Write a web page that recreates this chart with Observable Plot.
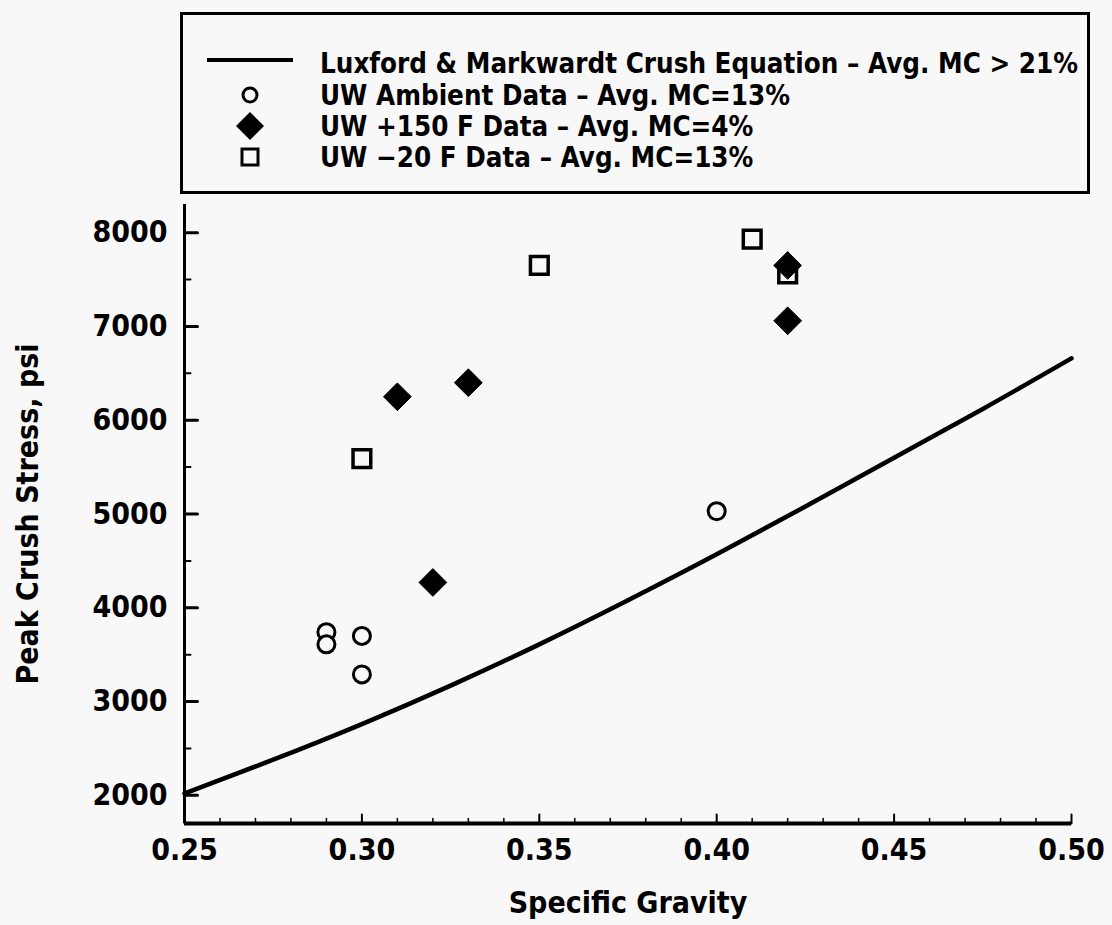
<!DOCTYPE html>
<html><head><meta charset="utf-8">
<script src="https://cdn.jsdelivr.net/npm/d3@7"></script>
<script src="https://cdn.jsdelivr.net/npm/@observablehq/plot@0.6"></script>
<style>
body{margin:0;background:#f8f8f8;width:1112px;height:925px;overflow:hidden;font-family:"DejaVu Sans Condensed","DejaVu Sans",sans-serif;}
#legend{position:absolute;left:180px;top:12px;width:910px;height:182px;box-sizing:border-box;border:3px solid #000;}
#legend svg{position:absolute;left:0;top:0;}
#chart{position:absolute;left:0;top:196px;}
</style></head><body>
<div id="legend"></div><div id="chart"></div>
<script>
// ---- data ----
const xDomain = [0.25, 0.50];
const yDomain = [1700, 8300];
const xMajor = [0.25, 0.30, 0.35, 0.40, 0.45, 0.50];
const xMinor = [0.26,0.27,0.28,0.29,0.31,0.32,0.33,0.34,0.36,0.37,0.38,0.39,0.41,0.42,0.43,0.44,0.46,0.47,0.48,0.49];
const yMajor = [2000, 3000, 4000, 5000, 6000, 7000, 8000];
const yMinor = [2500, 3500, 4500, 5500, 6500, 7500];

const curveSG   = [0.25, 0.275, 0.30, 0.325, 0.35, 0.375, 0.40, 0.425, 0.45, 0.475, 0.50];
const curveStress = [2020, 2380, 2760, 3170, 3610, 4080, 4570, 5080, 5600, 6120, 6660];

const ambientSG = [0.29, 0.29, 0.30, 0.30, 0.40];
const ambientStress = [3740, 3610, 3700, 3290, 5030];

const plus150SG = [0.31, 0.33, 0.32, 0.42, 0.42];
const plus150Stress = [6250, 6400, 4270, 7060, 7650];

const minus20SG = [0.30, 0.35, 0.41, 0.42];
const minus20Stress = [5590, 7650, 7930, 7560];

const legendLabels = [
  "Luxford & Markwardt Crush Equation \u2013 Avg. MC > 21%",
  "UW Ambient Data \u2013 Avg. MC=13%",
  "UW +150 F Data \u2013 Avg. MC=4%",
  "UW \u221220 F Data \u2013 Avg. MC=13%"
];

const zip = (xs, ys) => xs.map((x, i) => ({x, y: ys[i]}));
const curve = zip(curveSG, curveStress);
const ambient = zip(ambientSG, ambientStress);
const plus150 = zip(plus150SG, plus150Stress);
const minus20 = zip(minus20SG, minus20Stress);

const FONT = '"DejaVu Sans Condensed","DejaVu Sans",sans-serif';
const BG = "#f8f8f8";
const tickShape = {draw(context, l) { context.moveTo(0, 0); context.lineTo(0, -l); }};

const chart = Plot.plot({
  width: 1112, height: 729,
  marginLeft: 184, marginRight: 41, marginTop: 8, marginBottom: 102,
  style: {background: "transparent", fontFamily: FONT, color: "#000"},
  x: {domain: xDomain},
  y: {domain: yDomain},
  marks: [
    Plot.ruleX([xDomain[0]], {stroke: "#000", strokeWidth: 3}),
    Plot.ruleY([yDomain[0]], {stroke: "#000", strokeWidth: 4}),
    Plot.vector(yMajor, {y: d => d, frameAnchor: "left", rotate: 90, length: 13, anchor: "start", shape: tickShape, stroke: "#000", strokeWidth: 3}),
    Plot.vector(yMinor, {y: d => d, frameAnchor: "left", rotate: 90, length: 6, anchor: "start", shape: tickShape, stroke: "#000", strokeWidth: 2}),
    Plot.vector(xMajor, {x: d => d, frameAnchor: "bottom", rotate: 0, length: 9, anchor: "start", shape: tickShape, stroke: "#000", strokeWidth: 2}),
    Plot.vector(xMinor, {x: d => d, frameAnchor: "bottom", rotate: 0, length: 5, anchor: "start", shape: tickShape, stroke: "#000", strokeWidth: 1.5}),
    Plot.axisY({ticks: yMajor, tickSize: 0, tickPadding: 17, tickFormat: d => String(d), fontSize: 30, fontWeight: "bold", label: null}),
    Plot.axisX({ticks: xMajor, tickSize: 0, tickPadding: 15, tickFormat: d => d.toFixed(2), fontSize: 30, fontWeight: "bold", label: null}),
    Plot.text(["Specific Gravity"], {text: d => d, frameAnchor: "bottom", textAnchor: "middle", dy: 80, lineAnchor: "middle", fontSize: 30, fontWeight: "bold"}),
    Plot.text(["Peak Crush Stress, psi"], {text: d => d, frameAnchor: "left", textAnchor: "middle", dx: -156, rotate: -90, lineAnchor: "middle", fontSize: 30, fontWeight: "bold"}),
    Plot.line(curve, {x: "x", y: "y", curve: "natural", stroke: "#000", strokeWidth: 4.5}),
    Plot.dot(ambient, {x: "x", y: "y", symbol: "circle", r: 8.5, stroke: "#000", strokeWidth: 3, fill: BG}),
    Plot.dot(minus20, {x: "x", y: "y", symbol: "square", r: 10, stroke: "#000", strokeWidth: 3.5, fill: BG}),
    Plot.dot(plus150, {x: "x", y: "y", symbol: "diamond2", r: 12.5, stroke: "#000", strokeWidth: 1, fill: "#000"})
  ]
});
document.getElementById("chart").appendChild(chart);

// ---- legend (HTML block above the chart) ----
const lg = d3.select("#legend").append("svg").attr("width", 904).attr("height", 176)
  .style("font-family", FONT);
const rowsY = [48, 80, 111, 142];
lg.append("line").attr("x1", 24).attr("x2", 110).attr("y1", rowsY[0] - 3).attr("y2", rowsY[0] - 3)
  .attr("stroke", "#000").attr("stroke-width", 4);
lg.append("circle").attr("cx", 67).attr("cy", rowsY[1]).attr("r", 7).attr("fill", "none").attr("stroke", "#000").attr("stroke-width", 3);
lg.append("path").attr("d", d3.symbol(d3.symbolDiamond2, 14*14*2.55)()).attr("transform", `translate(67,${rowsY[2]})`).attr("fill", "#000");
lg.append("rect").attr("x", 59).attr("y", rowsY[3] - 8).attr("width", 16).attr("height", 16).attr("fill", "none").attr("stroke", "#000").attr("stroke-width", 3);
lg.selectAll("text.l").data(legendLabels).join("text")
  .attr("x", 137).attr("y", (d, i) => rowsY[i]).attr("dy", "0.36em")
  .attr("font-size", 27.5).attr("font-weight", "bold").text(d => d);
</script>
</body></html>
